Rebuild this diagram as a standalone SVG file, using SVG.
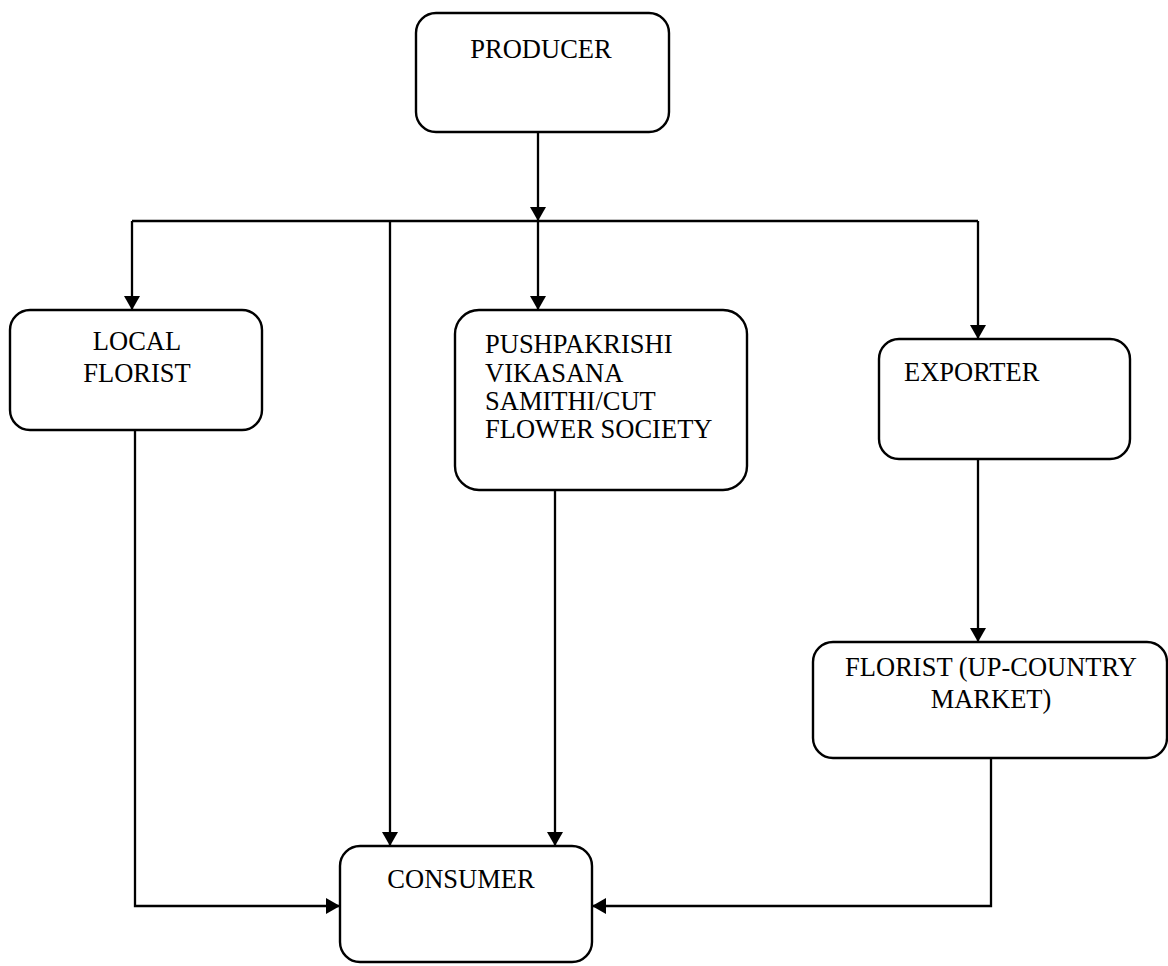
<svg xmlns="http://www.w3.org/2000/svg" width="1168" height="966" viewBox="0 0 1168 966">
  <style>
    .box { fill: #ffffff; stroke: #000000; stroke-width: 2.4; }
    .lbl { font-family: "Liberation Serif", "Times New Roman", serif; font-size: 26.5px; fill: #000000; }
    .wire { fill: none; stroke: #000000; stroke-width: 2.3; }
    .arr { marker-end: url(#head); }
  </style>
  <defs>
    <marker id="head" markerUnits="userSpaceOnUse" markerWidth="14" markerHeight="16" viewBox="0 0 14 16" refX="14" refY="8" orient="auto">
      <path d="M0,0 L14,8 L0,16 Z" fill="#000000"/>
    </marker>
  </defs>

  <rect width="1168" height="966" fill="#ffffff"/>

  <!-- connectors -->
  <g id="connectors">
    <line class="wire arr" x1="538" y1="132" x2="538" y2="221"/>
    <line class="wire" x1="132" y1="221" x2="978" y2="221"/>
    <line class="wire arr" x1="132" y1="221" x2="132" y2="310"/>
    <line class="wire arr" x1="538" y1="221" x2="538" y2="310"/>
    <line class="wire arr" x1="978" y1="221" x2="978" y2="339"/>
    <line class="wire arr" x1="390" y1="221" x2="390" y2="846"/>
    <polyline class="wire arr" points="135,430 135,906 340,906"/>
    <line class="wire arr" x1="555" y1="490" x2="555" y2="846"/>
    <line class="wire arr" x1="978" y1="459" x2="978" y2="642"/>
    <polyline class="wire arr" points="991,758 991,906 592,906"/>
  </g>

  <g id="producer">
    <rect class="box" x="416" y="13" width="253" height="119" rx="20" ry="20"/>
    <text class="lbl" x="541" y="58" text-anchor="middle">PRODUCER</text>
  </g>

  <g id="local-florist">
    <rect class="box" x="10" y="310" width="252" height="120" rx="20" ry="20"/>
    <text class="lbl" x="137" y="350" text-anchor="middle">LOCAL</text>
    <text class="lbl" x="137" y="382" text-anchor="middle">FLORIST</text>
  </g>

  <g id="society">
    <rect class="box" x="455" y="310" width="292" height="180" rx="24" ry="24"/>
    <text class="lbl" x="485" y="353">PUSHPAKRISHI</text>
    <text class="lbl" x="485" y="382">VIKASANA</text>
    <text class="lbl" x="485" y="410">SAMITHI/CUT</text>
    <text class="lbl" x="485" y="438">FLOWER SOCIETY</text>
  </g>

  <g id="exporter">
    <rect class="box" x="879" y="339" width="251" height="120" rx="20" ry="20"/>
    <text class="lbl" x="904" y="381">EXPORTER</text>
  </g>

  <g id="upcountry-florist">
    <rect class="box" x="813" y="642" width="354" height="116" rx="20" ry="20"/>
    <text class="lbl" x="991" y="676" text-anchor="middle">FLORIST (UP-COUNTRY</text>
    <text class="lbl" x="991" y="708" text-anchor="middle">MARKET)</text>
  </g>

  <g id="consumer">
    <rect class="box" x="340" y="846" width="252" height="116" rx="20" ry="20"/>
    <text class="lbl" x="461" y="888" text-anchor="middle">CONSUMER</text>
  </g>
</svg>
